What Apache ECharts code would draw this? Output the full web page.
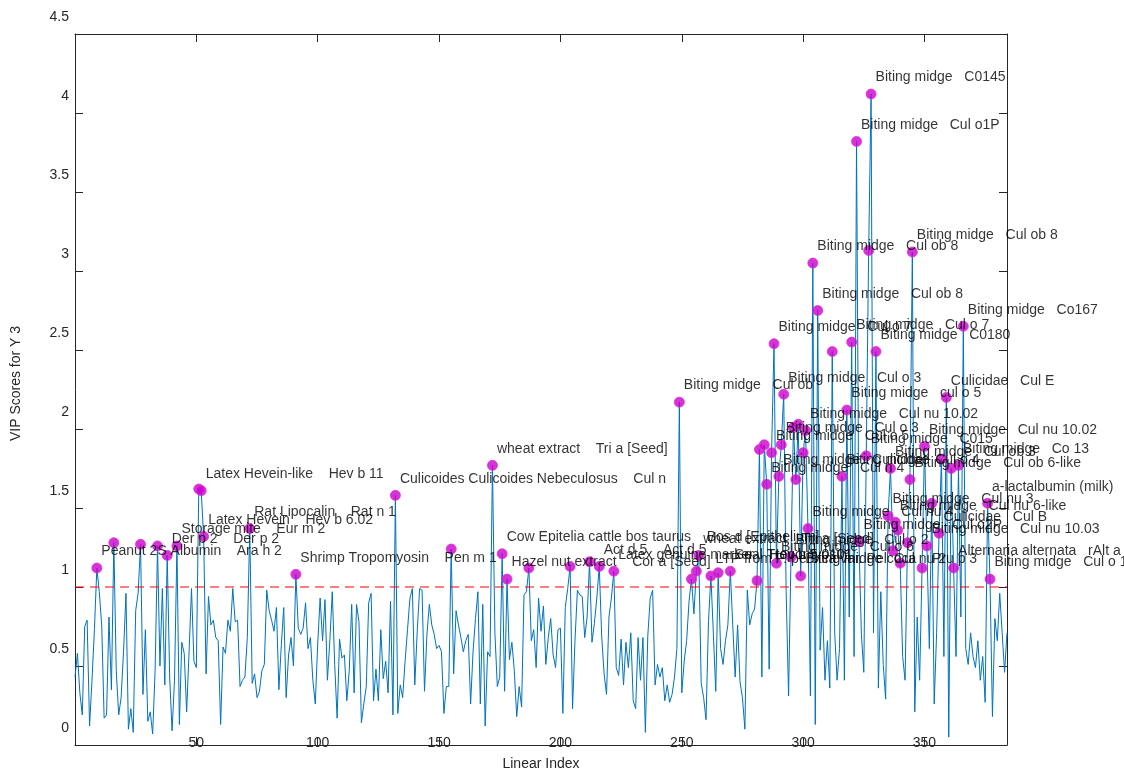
<!DOCTYPE html>
<html><head><meta charset="utf-8">
<script src="https://cdn.jsdelivr.net/npm/echarts@6/dist/echarts.min.js"></script>
<style>html,body{margin:0;padding:0;background:#fff}#c{width:1124px;height:776px}</style>
</head><body><div id="c"></div>
<script>
// VIP scores for Y 3, index 0..384
const vip = [
0.43,0.58,0.33,0.19,0.75,0.79,0.12,0.41,0.73,1.12,
0.97,0.76,0.17,0.19,0.81,0.35,1.28,0.47,0.19,0.30,
0.59,0.96,0.10,0.23,0.08,0.85,0.96,1.27,0.32,0.73,
0.15,0.21,0.07,0.47,1.26,0.50,0.99,0.38,1.20,0.43,
0.09,0.41,1.26,0.13,0.65,0.58,0.21,0.59,0.99,0.53,
0.49,1.62,1.61,1.32,0.45,0.94,0.76,0.79,0.68,0.66,
0.13,0.62,0.58,0.79,0.72,0.99,0.78,0.79,0.37,0.41,
0.43,0.68,1.37,0.39,0.45,0.30,0.34,0.47,0.51,0.98,
0.85,0.79,0.72,0.87,0.35,0.63,0.87,0.30,0.57,0.68,
0.50,1.08,0.74,0.70,0.74,0.90,0.61,0.68,0.41,0.26,
0.64,0.93,0.66,0.92,0.41,0.66,0.97,0.51,0.17,0.67,
0.55,0.57,0.28,0.47,0.89,0.33,0.89,0.78,0.14,0.26,
0.37,0.90,0.96,0.28,0.48,0.28,0.73,0.42,0.53,0.33,
0.91,0.19,1.58,0.20,0.38,0.30,0.53,0.73,0.93,0.99,
0.38,0.72,0.99,0.98,0.34,0.70,0.89,0.76,0.70,0.61,
0.63,0.59,0.20,0.37,0.37,1.24,0.45,0.85,0.76,0.68,
0.59,0.66,0.70,0.26,0.59,0.80,0.97,0.26,0.89,0.12,
0.59,0.56,1.77,0.71,0.37,0.43,1.21,0.34,1.05,0.54,
0.65,0.47,0.18,0.37,0.24,0.95,0.97,1.12,0.66,0.73,
0.49,0.93,0.72,0.88,0.51,0.68,0.80,0.57,0.49,0.73,
0.74,0.20,0.87,0.99,1.13,0.23,0.66,0.98,0.95,0.94,
0.68,0.81,1.16,0.65,0.77,0.93,1.13,0.69,0.45,0.32,
0.81,0.93,1.10,0.49,0.44,0.67,0.38,0.65,0.49,0.71,
0.28,0.23,0.68,0.41,0.68,0.08,0.69,0.93,0.98,0.38,
0.51,0.43,0.49,0.28,0.38,0.27,0.32,0.43,0.61,2.17,
0.33,0.53,0.66,0.91,1.05,0.83,1.10,1.20,0.39,0.30,
0.16,0.78,1.07,0.71,0.34,1.09,0.61,0.51,0.66,0.76,
1.10,0.76,0.43,0.76,0.40,0.30,0.10,0.98,0.76,0.83,
0.86,1.04,1.87,0.43,1.90,1.65,0.48,1.85,2.54,1.15,
1.70,1.90,2.22,0.97,0.31,1.19,2.01,1.68,2.03,1.07,
1.85,1.99,1.37,0.31,3.05,0.13,2.75,0.60,0.87,0.41,
0.66,0.36,2.49,0.71,0.41,0.61,1.70,0.41,2.12,0.81,
2.55,0.56,3.82,1.29,0.70,0.46,1.83,3.13,4.12,0.71,
2.49,0.36,0.97,0.51,0.29,1.45,1.75,1.23,1.41,1.36,
1.15,0.56,0.41,1.28,1.68,3.12,0.21,0.81,0.41,1.12,
1.89,1.26,0.61,1.53,0.26,0.71,1.34,1.81,0.56,2.20,
0.05,1.75,1.12,0.56,1.77,0.81,2.65,0.61,0.51,0.71,
0.56,0.49,0.66,0.41,0.56,0.27,1.53,1.05,0.18,0.80,
0.66,0.96,0.71,0.46,0.71
];
const threshold = 1.0;
const xMin = 0, xMax = 384;
const yMin = 0, yMax = 4.5;
const xTicks = [50, 100, 150, 200, 250, 300, 350];
const yTicks = [0, 0.5, 1, 1.5, 2, 2.5, 3, 3.5, 4, 4.5];
const labelIndex = [9, 38, 42, 52, 53, 72, 91, 132, 172, 176, 178, 216, 222, 249, 257, 262, 270,
  285, 287, 288, 289, 290, 291, 292, 295, 299, 301, 302, 304, 306, 316, 318, 320, 322, 323, 326, 328, 330,
  335, 336, 338, 344, 345, 350, 351, 356, 359, 362, 364, 366, 376, 377];
const labelText = [
  'Peanut 2S Albumin    Ara h 2', 'Der p 2    Der p 2', 'Storage mite    Eur m 2',
  'Latex Hevein-like    Hev b 11', 'Latex Hevein    Hev b 6.02', 'Rat Lipocalin    Rat n 1',
  'Shrimp Tropomyosin    Pen m 1', 'Culicoides Culicoides Nebeculosus    Cul n',
  'wheat extract    Tri a [Seed]', 'Cow Epitelia cattle bos taurus    Bos d [Epithelium]',
  'Hazel nut extract    Cor a [Seed]', 'Act d 5    Act d 5', 'Latex genuine marker    Hev b 5.0101',
  'Biting midge   Cul ob', 'wheat extract    Tri a [Seed]', 'LTP from P. persica var. Pelcoca    Pru p 3',
  'Seal Tropomyosin',
  'Biting midge   Cul n 4', 'Biting midge   Cul o 5', 'Biting midge   Cul o 7', 'Biting midge   Cul o 6',
  'Biting midge   Culicidae', 'Biting midge   Cul o 3', 'Biting midge   Cul o 3', 'Biting midge   Cul o 2',
  'Biting midge   Cul nu 2', 'Biting midge   Cul nu 10.02', 'Biting midge   Cul nu 4',
  'Biting midge   Cul ob 8', 'Biting midge   Cul ob 8', 'Biting midge   Cul o 4', 'Biting midge   cul o 5',
  'Biting midge   Cul o 7', 'Biting midge   Cul o1P', 'Biting midge   Cul o2P', 'Biting midge   C015',
  'Biting midge   C0145', 'Biting midge   C0180', 'Biting midge   Cul nu 3', 'Biting midge   Cul ob 3',
  'Biting midge   Cul nu 6-like', 'Biting midge   Cul ob 6-like', 'Biting midge   Cul ob 8',
  'Biting midge   Cul nu 10.02', 'Biting midge   Cul nu 10.03', 'Culicidae   Cul B', 'Culicidae   Cul E',
  'Alternaria alternata   rAlt a 1', 'Biting midge   Co 13', 'Biting midge   Co167',
  'a-lactalbumin (milk)   Bos d 4', 'Biting midge   Cul o 1'
];

const FONT = '"Liberation Sans", Arial, Helvetica, sans-serif';
const TXT = '#262626';
const lineData = vip.map((v, i) => [i, v]);
const labelMap = {};
labelIndex.forEach((k, j) => { labelMap[k] = labelText[j]; });
const peakData = [];
vip.forEach((v, i) => {
  if (v > threshold) {
    peakData.push({ value: [i, v], name: labelMap[i] || '' });
  }
});
const thresholdData = [[xMin, threshold], [xMax, threshold]];

const chart = echarts.init(document.getElementById('c'), null, { renderer: 'canvas' });
const axisLine = { show: true, onZero: false, lineStyle: { color: TXT, width: 1 } };
chart.setOption({
  animation: false,
  backgroundColor: '#ffffff',
  grid: { left: 75, right: 117, top: 34, bottom: 29, containLabel: false },
  xAxis: [{
    type: 'value', min: xMin, max: xMax, position: 'bottom',
    axisLine: axisLine,
    axisTick: { show: true, inside: true, length: 8, customValues: xTicks, lineStyle: { color: TXT } },
    axisLabel: { customValues: xTicks, color: TXT, fontSize: 14, fontFamily: FONT, margin: -9 },
    splitLine: { show: false },
    name: 'Linear Index', nameLocation: 'middle', nameGap: 12,
    nameTextStyle: { color: TXT, fontSize: 14, fontFamily: FONT }
  }, {
    type: 'value', min: xMin, max: xMax, position: 'top',
    axisLine: axisLine,
    axisTick: { show: true, inside: true, length: 8, customValues: xTicks, lineStyle: { color: TXT } },
    axisLabel: { show: false }, splitLine: { show: false }
  }],
  yAxis: [{
    type: 'value', min: yMin, max: yMax, position: 'left',
    axisLine: axisLine,
    axisTick: { show: true, inside: true, length: 8, customValues: yTicks, lineStyle: { color: TXT } },
    axisLabel: { customValues: yTicks, color: TXT, fontSize: 14, fontFamily: FONT, margin: 6,
      verticalAlign: 'bottom', lineHeight: 33 },
    splitLine: { show: false },
    name: 'VIP Scores for Y 3', nameLocation: 'middle', nameGap: 52, nameRotate: 90,
    nameTextStyle: { color: TXT, fontSize: 14, fontFamily: FONT, padding: [0, 0, 0, 12] }
  }, {
    type: 'value', min: yMin, max: yMax, position: 'right',
    axisLine: axisLine,
    axisTick: { show: true, inside: true, length: 8, customValues: yTicks, lineStyle: { color: TXT } },
    axisLabel: { show: false }, splitLine: { show: false }
  }],
  series: [{
    type: 'line', data: lineData, xAxisIndex: 0, yAxisIndex: 0,
    showSymbol: false, symbol: 'none',
    lineStyle: { color: '#0072BD', width: 1 },
    itemStyle: { color: '#0072BD' },
    z: 2
  }, {
    type: 'line', data: thresholdData, xAxisIndex: 0, yAxisIndex: 0,
    showSymbol: false, symbol: 'none', silent: true,
    lineStyle: { color: '#ff0000', type: [9, 6], width: 1 },
    itemStyle: { color: '#ff0000' },
    z: 2
  }, {
    type: 'scatter', data: peakData, xAxisIndex: 0, yAxisIndex: 0,
    symbol: 'circle', symbolSize: 10,
    itemStyle: { color: '#cc00cc', borderColor: '#dd33dd', borderWidth: 1 },
    z: 3,
    label: {
      show: true, formatter: p => p.name,
      position: [10, -11], align: 'left', verticalAlign: 'middle',
      color: '#000000', fontSize: 14, fontFamily: FONT
    },
    labelLayout: { hideOverlap: false }
  }]
});
</script>
</body></html>
